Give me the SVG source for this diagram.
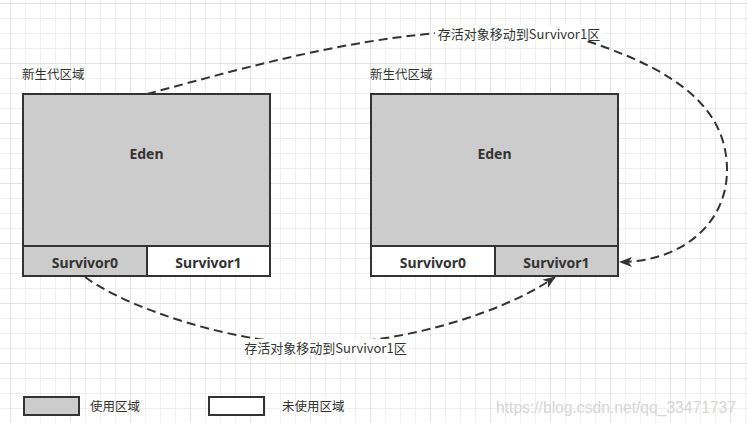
<svg xmlns="http://www.w3.org/2000/svg" width="748" height="423" viewBox="0 0 748 423">
<style>
.box{stroke:#333;stroke-width:2}
.used{fill:#cccccc}
.free{fill:#ffffff}
.lbl{font-family:"Noto Sans","Open Sans","Noto Sans CJK SC",sans-serif;font-weight:bold;font-size:14px;fill:#333;text-anchor:middle;dominant-baseline:central}
.cn{font-family:"Noto Sans CJK SC","Noto Sans",sans-serif;font-size:12.5px;fill:#333}
.edge{fill:none;stroke:#333;stroke-width:2;stroke-dasharray:9 5}
.elbl{font-family:"Noto Sans CJK SC","Noto Sans",sans-serif;font-size:13px;fill:#333;text-anchor:middle;dominant-baseline:central}
</style>
<defs>
<pattern id="minor" x="10" y="3" width="15" height="15" patternUnits="userSpaceOnUse">
<rect width="1" height="15" fill="#efefef"/><rect width="15" height="1" fill="#efefef"/>
</pattern>
<pattern id="major" x="10" y="3" width="60" height="60" patternUnits="userSpaceOnUse">
<rect width="1" height="60" fill="#e3e3e3"/><rect width="60" height="1" fill="#e3e3e3"/>
</pattern>
<marker id="arr" markerUnits="userSpaceOnUse" viewBox="0 0 13 10" markerWidth="13" markerHeight="10" refX="12" refY="5" orient="auto">
<path d="M0,0 L13,5 L0,10 L3.5,5 z" fill="#333"/>
</marker>
</defs>
<rect width="748" height="423" fill="#fff"/>
<rect width="748" height="423" fill="url(#minor)"/>
<rect width="748" height="423" fill="url(#major)"/>

<g id="connectors">
<path class="edge" d="M147,94 C247,67 337,42 437,33 C480,29 550,30 590,42 C680,72 727,110 727,170 C727,225 680,262 620,262" marker-end="url(#arr)"/>
<path class="edge" d="M85,277 C130,310 240,345 320,344 C400,343 500,315 555,277" marker-end="url(#arr)"/>
<g id="label-top">
<rect x="435" y="25" width="168" height="16" fill="#fff"/>
<text class="elbl" x="519" y="33">存活对象移动到Survivor1区</text>
</g>
<g id="label-bottom">
<rect x="243" y="339" width="165" height="16" fill="#fff"/>
<text class="elbl" x="325.5" y="347">存活对象移动到Survivor1区</text>
</g>
</g>

<g id="young-left">
<text class="cn" x="22" y="79">新生代区域</text>
<rect class="box used" x="23" y="94" width="247" height="152"/>
<text class="lbl" x="146.5" y="153">Eden</text>
<rect class="box used" x="23" y="246" width="124" height="30"/>
<text class="lbl" x="85" y="262">Survivor0</text>
<rect class="box free" x="147" y="246" width="123" height="30"/>
<text class="lbl" x="208.5" y="262">Survivor1</text>
</g>

<g id="young-right">
<text class="cn" x="370" y="79">新生代区域</text>
<rect class="box used" x="371" y="94" width="247" height="152"/>
<text class="lbl" x="494.5" y="153">Eden</text>
<rect class="box free" x="371" y="246" width="124" height="30"/>
<text class="lbl" x="433" y="262">Survivor0</text>
<rect class="box used" x="495" y="246" width="123" height="30"/>
<text class="lbl" x="556.5" y="262">Survivor1</text>
</g>

<g id="legend-used">
<rect class="box used" x="24" y="397" width="55" height="18"/>
<text class="cn" x="90" y="411">使用区域</text>
</g>
<g id="legend-free">
<rect class="box free" x="209" y="397" width="55" height="18"/>
<text class="cn" x="282" y="411">未使用区域</text>
</g>
<text x="496" y="413" font-family="Liberation Sans, sans-serif" font-size="16" fill="#d6d6d6" textLength="240" lengthAdjust="spacingAndGlyphs">https://blog.csdn.net/qq_33471737</text>
</svg>
